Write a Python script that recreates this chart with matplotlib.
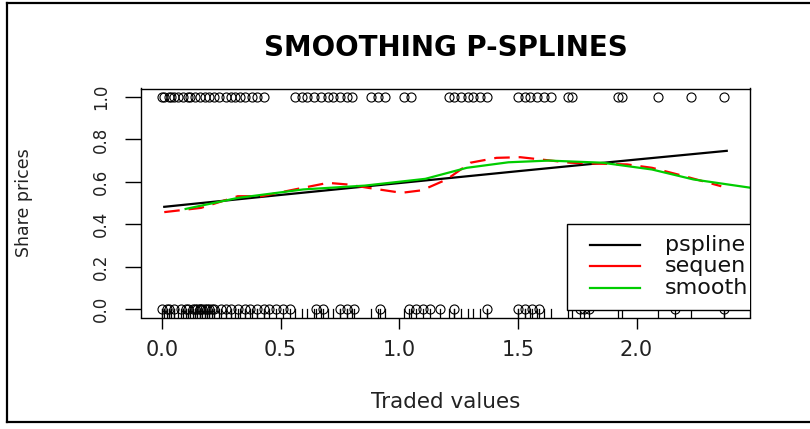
import matplotlib
matplotlib.use("Agg")
import matplotlib.pyplot as plt
from matplotlib.lines import Line2D
from matplotlib.patches import Rectangle

# observed points (traded value) with share price 1 and 0
x_ones = [0.00, 0.01, 0.03, 0.04, 0.05, 0.07, 0.09, 0.11, 0.12, 0.14, 0.16, 0.18,
          0.20, 0.22, 0.24, 0.27, 0.29, 0.31, 0.33, 0.35, 0.38, 0.40, 0.43, 0.56,
          0.59, 0.61, 0.64, 0.67, 0.70, 0.72, 0.75, 0.78, 0.80, 0.88, 0.91, 0.94,
          1.02, 1.05, 1.21, 1.23, 1.26, 1.29, 1.31, 1.34, 1.37, 1.50, 1.53, 1.55,
          1.58, 1.61, 1.64, 1.71, 1.73, 1.92, 1.94, 2.09, 2.23, 2.37]
x_zeros = [0.00, 0.02, 0.03, 0.05, 0.08, 0.10, 0.11, 0.13, 0.14, 0.15, 0.16, 0.16,
           0.17, 0.18, 0.19, 0.20, 0.21, 0.22, 0.25, 0.27, 0.29, 0.32, 0.35, 0.37,
           0.40, 0.43, 0.45, 0.48, 0.51, 0.54, 0.65, 0.68, 0.75, 0.78, 0.81, 0.92,
           1.04, 1.07, 1.10, 1.13, 1.17, 1.23, 1.37, 1.50, 1.53, 1.56, 1.59, 1.76,
           1.78, 1.80, 2.16, 2.37]

# fitted curves
pspline_x = [0.01, 0.5, 1.0, 1.5, 2.0, 2.38]
pspline_y = [0.482, 0.538, 0.594, 0.650, 0.705, 0.746]

sequen_x = [0.01, 0.165, 0.32, 0.42, 0.56, 0.70, 0.786, 0.872, 1.01, 1.096, 1.20,
            1.30, 1.41, 1.51, 1.72, 1.82, 1.96, 2.065, 2.20, 2.357]
sequen_y = [0.457, 0.477, 0.532, 0.532, 0.564, 0.595, 0.587, 0.571, 0.548, 0.560,
            0.611, 0.690, 0.713, 0.716, 0.690, 0.686, 0.682, 0.666, 0.627, 0.579]

smooth_x = [0.10, 0.32, 0.596, 0.855, 1.11, 1.285, 1.46, 1.63, 1.856, 2.065, 2.24, 2.48]
smooth_y = [0.472, 0.524, 0.564, 0.582, 0.614, 0.666, 0.692, 0.700, 0.690, 0.658,
            0.611, 0.572]

legend_names = ["pspline", "sequen", "smooth"]
legend_colors = ["black", "red", "#00CD00"]

fig = plt.figure(figsize=(8.1, 4.29), dpi=100)
W, H = 810, 429
ax = fig.add_axes([141 / W, 1 - 317.5 / H, 609 / W, 229 / H])

ax.plot(x_ones, [1] * len(x_ones), "o", ms=6.5, mfc="none", mec="black", mew=0.8)
ax.plot(x_zeros, [0] * len(x_zeros), "o", ms=6.5, mfc="none", mec="black", mew=0.8)

# rug of all x values
for xv in x_ones + x_zeros:
    ax.plot([xv, xv], [0, 0.035], color="black", lw=0.9,
            transform=ax.get_xaxis_transform())

ax.plot(pspline_x, pspline_y, color="black", lw=1.6)
ax.plot(sequen_x, sequen_y, color="red", lw=1.6, dashes=(7, 4))
ax.plot(smooth_x, smooth_y, color="#00CD00", lw=1.6)

ax.set_xlim(-0.088, 2.478)
ax.set_ylim(-0.04, 1.04)
ax.set_xticks([0.0, 0.5, 1.0, 1.5, 2.0])
ax.set_xticklabels(["0.0", "0.5", "1.0", "1.5", "2.0"])
ax.set_yticks([0.0, 0.2, 0.4, 0.6, 0.8, 1.0])
ax.set_yticklabels(["0.0", "0.2", "0.4", "0.6", "0.8", "1.0"])
ax.tick_params(axis="x", length=8, width=1, pad=8, labelsize=15, labelcolor="#222222")
ax.tick_params(axis="y", length=11.5, width=1, pad=11, labelsize=12,
               labelrotation=90, labelcolor="#222222")
for lab in ax.get_yticklabels():
    lab.set_va("center")
for sp in ax.spines.values():
    sp.set_linewidth(1.0)

# legend box (right side runs off the image)
ax.add_patch(Rectangle((0.6995, 0.0328), 0.35, 0.375, transform=ax.transAxes,
                       facecolor="white", edgecolor="black", lw=1.0, zorder=5))
leg_y = [0.3166, 0.2249, 0.1288]
for name, col, yy in zip(legend_names, legend_colors, leg_y):
    ax.plot([0.737, 0.819], [yy, yy], color=col, lw=1.6, transform=ax.transAxes, zorder=6)
    ax.text(0.860, yy, name, transform=ax.transAxes, fontsize=16, va="center",
            ha="left", zorder=6, color="#111111", clip_on=True)

ax.set_title("SMOOTHING P-SPLINES", fontsize=20, fontweight="bold", y=1.142, pad=0)
ax.set_xlabel("Traded values", fontsize=15.5, color="#222222")
ax.xaxis.set_label_coords(0.5, -0.325)
ax.set_ylabel("Share prices", fontsize=12.5, color="#222222")
ax.yaxis.set_label_coords(-0.177, 0.5)

# outer frame of the screenshot
fig.add_artist(Line2D([7 / W, 7 / W], [1 - 3 / H, 1 - 422 / H], color="black", lw=1.6))
fig.add_artist(Line2D([7 / W, 1.0], [1 - 3 / H, 1 - 3 / H], color="black", lw=1.6))
fig.add_artist(Line2D([7 / W, 1.0], [1 - 422 / H, 1 - 422 / H], color="black", lw=1.6))

fig.savefig("out.png", dpi=100)
